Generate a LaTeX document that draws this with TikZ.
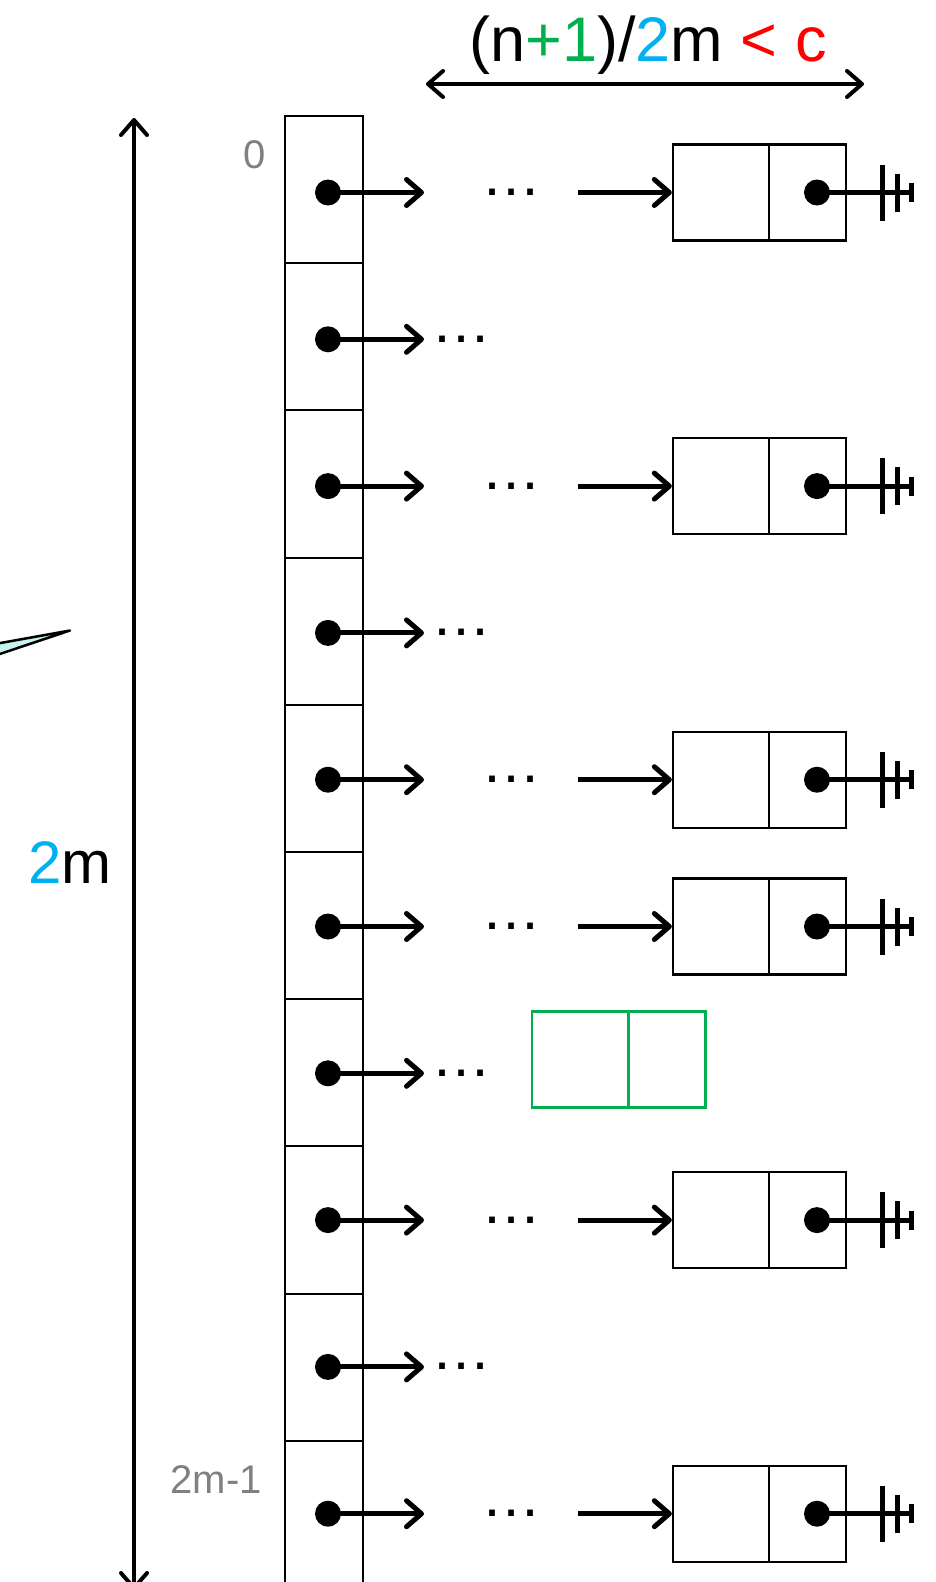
\documentclass[tikz,border=0pt]{standalone}
\usepackage{fontspec}
\setmainfont{Liberation Sans}
\usetikzlibrary{arrows.meta}
\definecolor{cgreen}{HTML}{00B050}
\definecolor{ccyan}{HTML}{00B0F0}
\definecolor{cred}{HTML}{FF0000}
\definecolor{cgray}{HTML}{808080}
\definecolor{cwedge}{HTML}{C6F4EC}
\begin{document}
\begin{tikzpicture}[x=1pt,y=-1pt,
  cell/.style={draw, line width=2pt, minimum width=78pt, minimum height=147.2pt, inner sep=0pt},
  ptr/.style={circle, fill, inner sep=0pt, minimum size=26pt},
  lpart/.style={draw, line width=2.3pt, minimum width=96pt, minimum height=96pt, inner sep=0pt},
  rpart/.style={draw, line width=2.3pt, minimum width=77pt, minimum height=96pt, inner sep=0pt},
  link/.style={line width=5pt, -{Straight Barb[length=15pt,width=26pt,round]}},
  dimarrow/.style={line width=4pt, {Straight Barb[length=15pt,width=26pt,round]}-{Straight Barb[length=15pt,width=26pt,round]}},
  ellip/.style={font=\fontsize{60}{60}\selectfont, inner sep=0pt, anchor=base},
  gnd/.style={line width=5pt},
  idx/.style={font=\fontsize{40}{40}\selectfont, text=cgray, anchor=base east, inner sep=0pt},
  ]
\useasboundingbox (0,0) rectangle (935,1582);
\clip (0,0) rectangle (935,1582);
% wedge at left
\filldraw[fill=cwedge, line width=2.5pt, line join=round] (-20,646.7) -- (70,630.5) -- (-20,660.6) -- cycle;
% column of cells
\foreach \k in {0,...,9}{
  \pgfmathsetmacro\cy{189.6+147.2*\k}
  \node[cell] (c\k) at (324,\cy) {};
}
% pointers
\foreach \k in {0,...,9}{
  \pgfmathsetmacro\yy{192.5+146.8*\k}
  \node[ptr] (d\k) at (328,\yy) {};
  \coordinate (a\k) at (424,\yy);
  \draw[link] (d\k.center) -- (a\k);
}
% long rows
\foreach \k in {0,2,4,5,7,9}{
  \pgfmathsetmacro\yy{192.5+146.8*\k}
  \node[ellip] (e\k) at (511,\yy+3) {…};
  \node[lpart] (bl\k) at (721,\yy) {};
  \node[rpart] (br\k) at (807.5,\yy) {};
  \coordinate (s\k) at (578,\yy);
  \draw[link] (s\k) -- (bl\k.west);
  \node[ptr] (r\k) at (817,\yy) {};
  \coordinate (g\k) at (913,\yy);
  \draw[gnd] (r\k.center) -- (g\k);
  \draw[gnd] (882,\yy-28) -- (882,\yy+28);
  \draw[gnd] (897,\yy-19) -- (897,\yy+19);
  \draw[gnd] (911,\yy-9.5) -- (911,\yy+9.5);
}
% short rows
\foreach \k in {1,3,6,8}{
  \pgfmathsetmacro\yy{192.5+146.8*\k}
  \node[ellip] (e\k) at (461,\yy+3) {…};
}
% green new node
\node[lpart, draw=cgreen] (gl) at (580,1059.5) {};
\node[rpart, draw=cgreen] (gr) at (667,1059.5) {};
% index labels
\node[idx] (l0) at (266,168) {0};
\node[idx] (l9) at (262,1493) {2m-1};
% top dimension
\coordinate (tl) at (426,84);
\coordinate (tr) at (864,84);
\draw[dimarrow] (tl) -- (tr);
\node[font=\fontsize{63}{63}\selectfont, anchor=base, inner sep=0pt] (tlab) at (648,61)
  {(n\textcolor{cgreen}{+1})/\textcolor{ccyan}{2}m \textcolor{cred}{< c}};
% left dimension
\coordinate (vt) at (134,118);
\coordinate (vb) at (134,1590);
\draw[dimarrow] (vt) -- (vb);
\node[font=\fontsize{60}{60}\selectfont, anchor=base, inner sep=0pt] (vlab) at (70,883)
  {\textcolor{ccyan}{2}m};
\end{tikzpicture}
\end{document}
